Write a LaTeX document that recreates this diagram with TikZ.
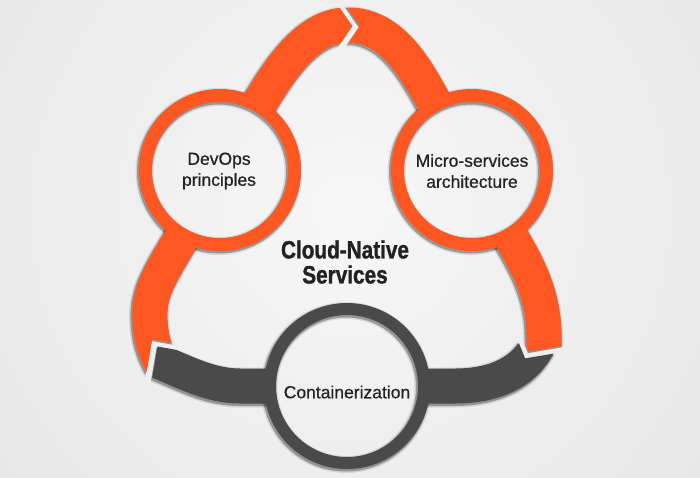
\documentclass[tikz,border=0pt]{standalone}
\usepackage{fontspec}
\setmainfont{Liberation Sans}
\newfontfamily\lblfont[FakeBold=0.6]{Liberation Sans}
\newfontfamily\titlefont[FakeStretch=0.83,FakeBold=1.2]{Liberation Sans Bold}
\definecolor{orng}{HTML}{FF5722}
\definecolor{drk}{HTML}{4A4A4A}
\definecolor{txt}{HTML}{222222}
\definecolor{bgin}{HTML}{F7F7F7}
\definecolor{bgout}{HTML}{D3D3D3}
\tikzset{
  band/.style={line width=35pt, line cap=butt},
  shdA/.style={line width=40pt, black, opacity=.10},
  shdB/.style={line width=37pt, black, opacity=.30},
  ringo/.style={circle, draw=orng, line width=13pt, minimum size=149pt, inner sep=0pt},
  ringd/.style={circle, draw=drk, line width=12pt, minimum size=154pt, inner sep=0pt},
  lbl/.style={text=txt, align=center, inner sep=0pt, font=\lblfont\fontsize{17.5}{21}\selectfont},
  ttl/.style={text=txt, align=center, inner sep=0pt, font=\titlefont\fontsize{25}{25}\selectfont}
}
% clip zones (orange part, dark part, left / right of the top notch)
\newcommand\clipOz{\clip (-10,-10) -- (710,-10) -- (710,321) -- (579.5,343) -- (528.9,351.6) -- (514.8,316.9) -- (200.5,348) -- (152.3,339.4) -- (127,487) -- (-10,487) -- cycle;}
\newcommand\clipDz{\clip (134,487) -- (150,391) -- (157.5,346.5) -- (199.5,354) -- (509.2,319.1) -- (525.1,358.4) -- (580.5,349) -- (710,327) -- (710,487) -- cycle;}
\newcommand\clipL{\clip (-10,-10) -- (327.4,-10) -- (352.4,26) -- (332.9,54.6) -- (332.9,487) -- (-10,487) -- cycle;}
\newcommand\clipR{\clip (334.7,-10) -- (710,-10) -- (710,487) -- (338,487) -- (338,58) -- (359.7,26) -- cycle;}
% band paths
\newcommand\orangeband[1]{\draw[band,#1]
  (183.7,234.5) .. controls (163,270) and (148,290) .. (150,320) .. controls (151,342) and (157,358) .. (170,376)
  (257.7,106.3) .. controls (275,78) and (305,25) .. (347,25) .. controls (395,24) and (420,77) .. (436.1,105.3)
  (509.4,233.9) .. controls (527,264) and (545,295) .. (544,340) -- (544,380);}
\newcommand\darkband[1]{\draw[band,#1]
  (273,386) -- (240,386) .. controls (210,386) and (185,372) .. (160,362) -- (138,353)
  (421,386) -- (455,386) .. controls (495,386) and (523,372) .. (537,347) -- (549,327);}
\newcommand\orangeparts[1]{%
  \begin{scope}\clipOz
    \begin{scope}\clipL \orangeband{#1}\end{scope}
    \begin{scope}\clipR \orangeband{#1}\end{scope}
  \end{scope}}
\newcommand\darkparts[1]{\begin{scope}\clipDz \darkband{#1}\end{scope}}
\begin{document}
\begin{tikzpicture}[x=1pt,y=-1pt]
  % background
  \begin{scope}
    \clip (0,0) rectangle (700,477);
    \fill[bgout] (0,0) rectangle (700,477);
    \shade[inner color=bgin, outer color=bgout] (350,210) circle[radius=1000];
  \end{scope}
  \useasboundingbox (0,0) rectangle (700,477);
  % shadows
  \begin{scope}[shift={(-1,1.5)}]
    \orangeparts{shdA}\orangeparts{shdB}
    \darkparts{shdA}\darkparts{shdB}
    \foreach \cx/\cy/\r/\w in {220/170/74.5/13, 472/170/74.5/13, 347/386/77/12}{
      \draw[black, opacity=.10, line width=\w pt+5pt] (\cx,\cy) circle[radius=\r];
      \draw[black, opacity=.30, line width=\w pt+2pt] (\cx,\cy) circle[radius=\r];
    }
  \end{scope}
  % coloured bands
  \orangeparts{orng}
  \darkparts{drk}
  % rings
  \node[ringo] (dev) at (220,170) {};
  \node[ringo] (mic) at (472,170) {};
  \node[ringd] (con) at (347,386) {};
  % texts
  \node[lbl] (devtxt) at (219,171) {DevOps\\principles};
  \node[lbl] (mictxt) at (472,171) {Micro-services\\architecture};
  \node[lbl] (contxt) at (347,392) {Containerization};
  \node[ttl] (title) at (345,262) {Cloud-Native\\Services};
\end{tikzpicture}
\end{document}
